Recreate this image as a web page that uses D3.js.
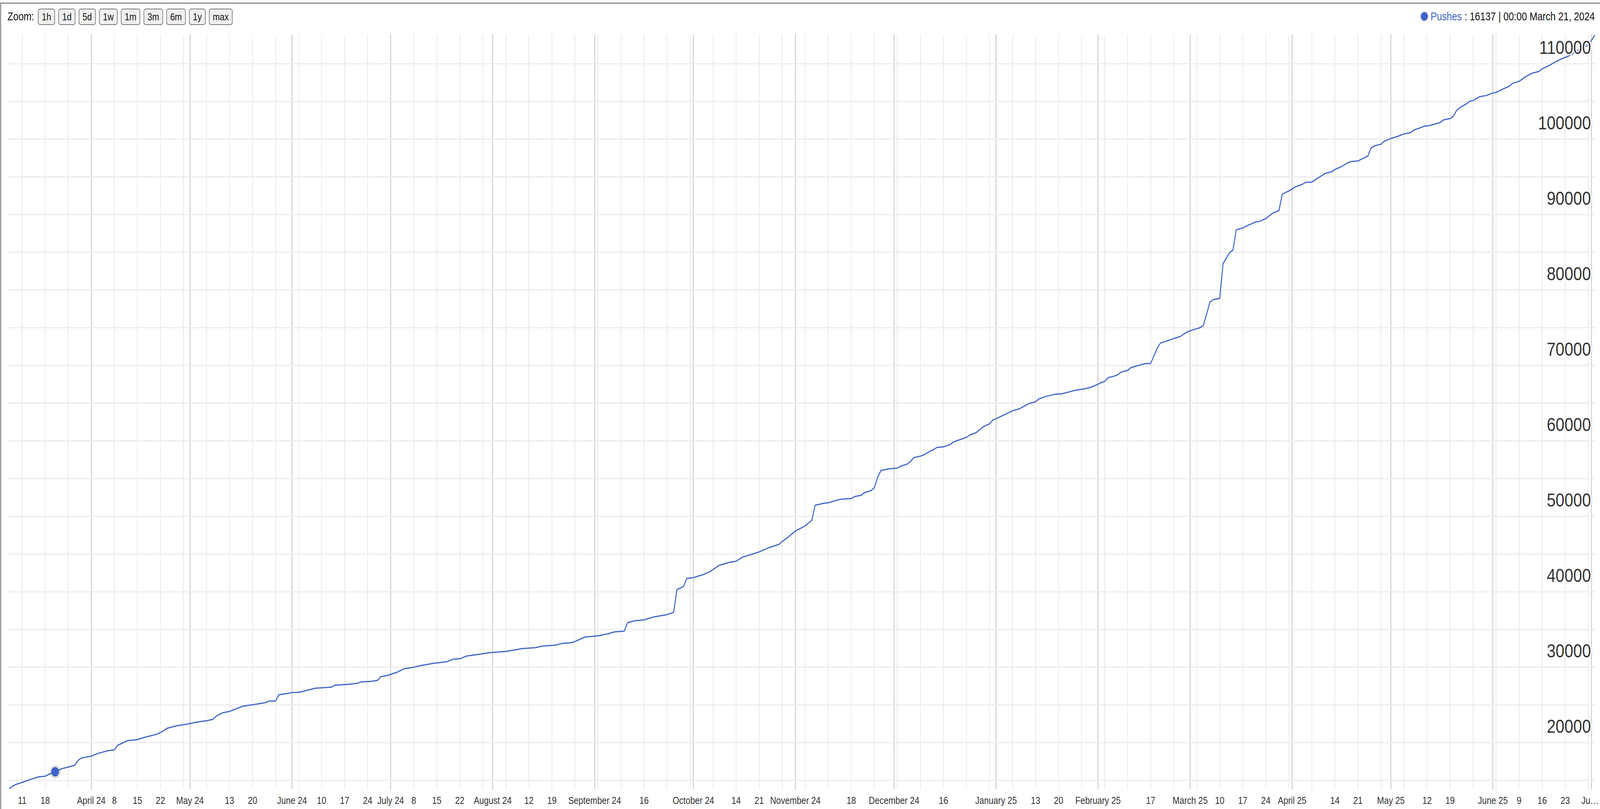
<!DOCTYPE html>
<html>
<head>
<meta charset="utf-8">
<script src="https://cdn.jsdelivr.net/npm/d3@7"></script>
<style>
  html, body { margin: 0; background: #fff; overflow: hidden; }
  svg { display: block; width: 100vw; height: 100vh; font-family: Arial, "Liberation Sans", Helvetica, sans-serif; }
</style>
</head>
<body>
<svg id="chart"></svg>
<script>
// daily cumulative pushes
const dates = [
  '2024-03-07','2024-03-08','2024-03-09','2024-03-11','2024-03-14','2024-03-16','2024-03-18','2024-03-19','2024-03-21','2024-03-23',
  '2024-03-25','2024-03-27','2024-03-28','2024-03-29','2024-04-01','2024-04-03','2024-04-06','2024-04-08','2024-04-09','2024-04-12',
  '2024-04-15','2024-04-17','2024-04-21','2024-04-23','2024-04-24','2024-04-27','2024-04-30','2024-05-03','2024-05-06','2024-05-08',
  '2024-05-09','2024-05-11','2024-05-13','2024-05-17','2024-05-20','2024-05-24','2024-05-25','2024-05-27','2024-05-28','2024-05-31',
  '2024-06-01','2024-06-03','2024-06-06','2024-06-08','2024-06-13','2024-06-14','2024-06-18','2024-06-21','2024-06-22','2024-06-25',
  '2024-06-27','2024-06-28','2024-06-30','2024-07-03','2024-07-05','2024-07-08','2024-07-10','2024-07-14','2024-07-18','2024-07-20',
  '2024-07-22','2024-07-24','2024-07-28','2024-07-31','2024-08-05','2024-08-07','2024-08-10','2024-08-14','2024-08-16','2024-08-20',
  '2024-08-22','2024-08-25','2024-08-26','2024-08-29','2024-09-01','2024-09-02','2024-09-05','2024-09-07','2024-09-10','2024-09-11',
  '2024-09-13','2024-09-16','2024-09-19','2024-09-23','2024-09-25','2024-09-26','2024-09-28','2024-09-29','2024-10-01','2024-10-04',
  '2024-10-06','2024-10-07','2024-10-09','2024-10-12','2024-10-14','2024-10-16','2024-10-19','2024-10-21','2024-10-24','2024-10-27',
  '2024-10-28','2024-10-30','2024-11-01','2024-11-04','2024-11-06','2024-11-07','2024-11-10','2024-11-11','2024-11-13','2024-11-15',
  '2024-11-18','2024-11-19','2024-11-21','2024-11-22','2024-11-24','2024-11-25','2024-11-26','2024-11-27','2024-11-29','2024-12-02',
  '2024-12-03','2024-12-05','2024-12-06','2024-12-07','2024-12-09','2024-12-10','2024-12-12','2024-12-13','2024-12-14','2024-12-16',
  '2024-12-18','2024-12-19','2024-12-21','2024-12-23','2024-12-24','2024-12-26','2024-12-28','2024-12-30','2024-12-31','2025-01-03',
  '2025-01-06','2025-01-08','2025-01-09','2025-01-11','2025-01-13','2025-01-14','2025-01-16','2025-01-19','2025-01-21','2025-01-24',
  '2025-01-25','2025-01-28','2025-01-30','2025-02-01','2025-02-02','2025-02-03','2025-02-04','2025-02-06','2025-02-07','2025-02-08',
  '2025-02-10','2025-02-11','2025-02-13','2025-02-15','2025-02-17','2025-02-19','2025-02-20','2025-02-22','2025-02-23','2025-02-26',
  '2025-02-28','2025-03-02','2025-03-04','2025-03-05','2025-03-06','2025-03-07','2025-03-08','2025-03-10','2025-03-11','2025-03-13',
  '2025-03-14','2025-03-15','2025-03-17','2025-03-19','2025-03-21','2025-03-22','2025-03-24','2025-03-26','2025-03-28','2025-03-29',
  '2025-03-31','2025-04-02','2025-04-04','2025-04-05','2025-04-07','2025-04-09','2025-04-11','2025-04-13','2025-04-14','2025-04-16',
  '2025-04-18','2025-04-19','2025-04-21','2025-04-22','2025-04-24','2025-04-25','2025-04-26','2025-04-28','2025-04-29','2025-05-01',
  '2025-05-03','2025-05-04','2025-05-05','2025-05-07','2025-05-08','2025-05-10','2025-05-11','2025-05-12','2025-05-14','2025-05-16',
  '2025-05-17','2025-05-19','2025-05-20','2025-05-21','2025-05-22','2025-05-24','2025-05-25','2025-05-26','2025-05-28','2025-05-30',
  '2025-06-01','2025-06-02','2025-06-04','2025-06-06','2025-06-07','2025-06-09','2025-06-11','2025-06-13','2025-06-15','2025-06-16',
  '2025-06-18','2025-06-20','2025-06-22','2025-06-24','2025-06-26','2025-06-28','2025-06-30','2025-07-02'
];
const pushes = [
  13900,14220,14450,14740,15200,15470,15560,15780,16137,16550,
  16760,17020,17670,17970,18220,18570,18930,19050,19650,20260,
  20400,20690,21120,21590,21900,22240,22450,22720,22900,23100,
  23530,23970,24140,24830,25030,25310,25520,25520,26350,26550,
  26640,26670,26980,27210,27350,27620,27720,27880,28050,28120,
  28260,28740,28910,29350,29790,30000,30210,30520,30720,31070,
  31120,31470,31720,31930,32100,32240,32470,32590,32790,32930,
  33140,33260,33400,34000,34120,34170,34430,34690,34780,35900,
  36150,36280,36670,36970,37280,40290,40690,41760,41880,42280,
  42660,42970,43530,43910,44050,44600,45000,45290,45860,46280,
  46670,47310,48050,48740,49470,51470,51760,51790,52070,52280,
  52360,52620,52790,53140,53400,53800,55150,56080,56260,56410,
  56640,56930,57270,57790,57980,58130,58650,58840,59130,59220,
  59510,59850,60160,60470,60770,61110,61850,62260,62750,63350,
  63990,64240,64470,64950,65190,65550,65880,66190,66240,66580,
  66700,66910,67130,67510,67740,67860,68370,68600,68770,69110,
  69340,69720,69970,70220,70270,72300,72990,73250,73420,73840,
  74420,74740,75000,75280,76790,78400,78720,78890,83500,84960,
  85280,87970,88230,88660,89040,89090,89470,90160,90550,92700,
  93130,93670,93990,94250,94310,94890,95450,95670,95970,96360,
  96890,97040,97110,97320,97750,98830,99110,99320,99730,100080,
  100350,100520,100690,100870,101210,101510,101700,101730,101940,102200,
  102550,102720,103030,103810,104190,104680,105030,105110,105630,105770,
  106120,106190,106620,107020,107400,107660,108280,108750,108960,109320,
  109740,110230,110660,111010,111530,112050,112450,113780
];
const seriesName = 'Pushes';
const highlightDate = '2024-03-21';
const zoomButtons = ['1h', '1d', '5d', '1w', '1m', '3m', '6m', '1y', 'max'];

const W = 4938, H = 2070;
const plotTop = 88, plotBottom = 2020, plotLeft = 26, plotRight = 4924;
const lineColor = '#3d63c9';

const parse = d3.utcParse('%Y-%m-%d');
const data = dates.map((d, i) => ({ date: parse(d), value: pushes[i] }));

// viewBox so the drawing fills the window whatever the pixel ratio is
const svg = d3.select('#chart')
  .attr('viewBox', `0 0 ${W} ${H}`)
  .attr('preserveAspectRatio', 'none');

// outer frame
svg.append('rect')
  .attr('x', 2).attr('y', 8).attr('width', W + 10).attr('height', H + 10)
  .attr('fill', '#fff').attr('stroke', '#8a8a8a').attr('stroke-width', 3);

const x = d3.scaleUtc()
  .domain(d3.extent(data, d => d.date))
  .range([28, 4922]);

const y = d3.scaleLinear()
  .domain(d3.extent(data, d => d.value))
  .range([2018, 90]);

const grid = svg.append('g');

// weekly grid (mondays)
const [d0, d1] = x.domain();
grid.selectAll('.wk')
  .data(d3.utcMonday.range(d0, d1))
  .join('line')
  .attr('x1', d => x(d)).attr('x2', d => x(d))
  .attr('y1', plotTop).attr('y2', plotBottom)
  .attr('stroke', '#e6e6e6').attr('stroke-width', 2);

// month grid
const months = d3.utcMonth.range(d0, d1);
grid.selectAll('.mo')
  .data(months)
  .join('line')
  .attr('x1', d => x(d)).attr('x2', d => x(d))
  .attr('y1', plotTop).attr('y2', plotBottom)
  .attr('stroke', '#c6c6c6').attr('stroke-width', 2.5);

// horizontal grid every 5000
grid.selectAll('.hz')
  .data(y.ticks(20))
  .join('line')
  .attr('x1', plotLeft).attr('x2', plotRight)
  .attr('y1', d => y(d)).attr('y2', d => y(d))
  .attr('stroke', '#ebebf2').attr('stroke-width', 3);

// series line
const line = d3.line()
  .x(d => x(d.date))
  .y(d => y(d.value));

svg.append('path')
  .datum(data)
  .attr('d', line)
  .attr('fill', 'none')
  .attr('stroke', lineColor)
  .attr('stroke-width', 3)
  .attr('stroke-linejoin', 'round');

// highlighted point
const hp = data.find(d => +d.date === +parse(highlightDate));
const hl = svg.append('g').attr('transform', `translate(${x(hp.date)},${y(hp.value)})`);
hl.append('circle').attr('r', 19).attr('fill', 'rgba(0,0,0,0.05)');
hl.append('circle').attr('r', 16).attr('fill', 'rgba(0,0,0,0.08)');
hl.append('circle').attr('r', 12).attr('fill', lineColor);

// y labels (right side, above their grid line)
svg.append('g').selectAll('text')
  .data(y.ticks(10))
  .join('text')
  .attr('x', 4910)
  .attr('y', d => y(d) - 25)
  .attr('text-anchor', 'end')
  .attr('font-size', 49)
  .attr('fill', '#333')
  .attr('stroke', '#fff').attr('stroke-width', 7).attr('paint-order', 'stroke')
  .text(d => d);

// x labels: months always, mondays unless they crowd a month label
const xl = svg.append('g')
  .attr('font-size', 26)
  .attr('fill', '#333')
  .attr('text-anchor', 'middle');
const labelY = 2057;
const monthFmt = d3.utcFormat('%B %y');
const dayFmt = d3.utcFormat('%-d');
const taken = [];
months.forEach(m => {
  const t = xl.append('text').attr('x', x(m)).attr('y', labelY).text(monthFmt(m));
  let w = t.node().getComputedTextLength();
  // last label runs past the right edge: shorten it like the original does
  if (x(m) + w / 2 > W - 2) {
    t.text(monthFmt(m).slice(0, 2) + '…').attr('text-anchor', 'end').attr('x', W - 4);
    w = t.node().getComputedTextLength();
    taken.push([W - 4 - w, W - 4]);
    return;
  }
  taken.push([x(m) - w / 2, x(m) + w / 2]);
});
d3.utcMonday.range(d0, d1).forEach(m => {
  if (m.getUTCDate() === 1) return;
  const t = xl.append('text').attr('x', x(m)).attr('y', labelY).text(dayFmt(m));
  const w = t.node().getComputedTextLength();
  const a = x(m) - w / 2, b = x(m) + w / 2;
  const pad = 14;
  if (taken.some(([l, r]) => a < r + pad && b > l - pad)) t.remove();
});

// header: zoom buttons
const header = svg.append('g').attr('font-size', 29);
header.append('text').attr('x', 23).attr('y', 52).attr('fill', '#111').text('Zoom:');
let bx = 118;
zoomButtons.forEach(lbl => {
  const g = header.append('g');
  const t = g.append('text')
    .attr('font-size', 26).attr('fill', '#111').attr('text-anchor', 'middle')
    .attr('y', 52).text(lbl);
  const w = t.node().getComputedTextLength() + 22;
  g.insert('rect', 'text')
    .attr('x', bx).attr('y', 23).attr('width', w).attr('height', 40)
    .attr('rx', 6)
    .attr('fill', '#efefef').attr('stroke', '#777').attr('stroke-width', 2);
  t.attr('x', bx + w / 2);
  bx += w + 12;
});

// legend / hover readout
const tipFmt = d3.utcFormat('%H:%M %B %-d, %Y');
const tip = header.append('text')
  .attr('x', 4922).attr('y', 52).attr('text-anchor', 'end').attr('fill', '#111');
tip.append('tspan').attr('fill', lineColor).text(seriesName);
tip.append('tspan').text(` : ${hp.value}  | ${tipFmt(hp.date)}`);
const tb = tip.node().getBBox();
header.append('circle').attr('cx', tb.x - 19).attr('cy', 42).attr('r', 14).attr('fill', 'rgba(0,0,0,0.07)');
header.append('circle').attr('cx', tb.x - 19).attr('cy', 42).attr('r', 11).attr('fill', lineColor);
</script>
</body>
</html>
